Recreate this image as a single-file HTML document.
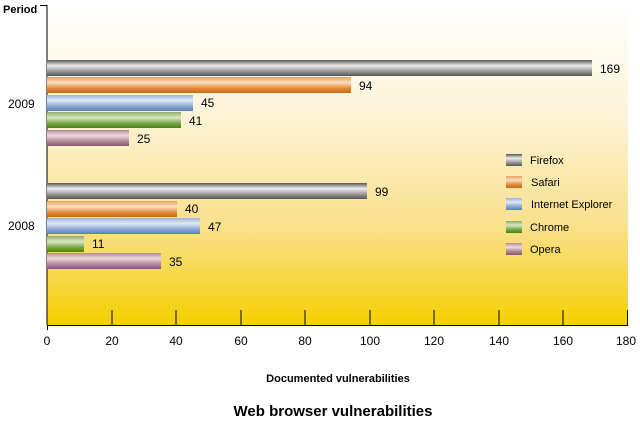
<!DOCTYPE html>
<html><head><style>body{margin:0;background:#fff}svg{display:block;font-family:"Liberation Sans",sans-serif}</style></head><body>
<svg width="640" height="422" viewBox="0 0 640 422">
<defs>
<linearGradient id="bg" x1="0" y1="0" x2="0" y2="1">
<stop offset="0" stop-color="#ffffff"/><stop offset="0.35" stop-color="#fdf3d6"/><stop offset="0.7" stop-color="#f9e08a"/><stop offset="1" stop-color="#f5d000"/></linearGradient>
<linearGradient id="g0" x1="0" y1="0" x2="0" y2="1"><stop offset="0" stop-color="#555"/><stop offset="0.35" stop-color="#eee"/><stop offset="0.7" stop-color="#999"/><stop offset="1" stop-color="#555"/></linearGradient>
<linearGradient id="g1" x1="0" y1="0" x2="0" y2="1"><stop offset="0" stop-color="#e8a060"/><stop offset="0.35" stop-color="#fbe0c0"/><stop offset="0.7" stop-color="#e48a3a"/><stop offset="1" stop-color="#c86a10"/></linearGradient>
<linearGradient id="g2" x1="0" y1="0" x2="0" y2="1"><stop offset="0" stop-color="#9ab4dc"/><stop offset="0.35" stop-color="#dfe8f6"/><stop offset="0.7" stop-color="#8aa8d8"/><stop offset="1" stop-color="#5a7fc0"/></linearGradient>
<linearGradient id="g3" x1="0" y1="0" x2="0" y2="1"><stop offset="0" stop-color="#8ab060"/><stop offset="0.35" stop-color="#d8e8c4"/><stop offset="0.7" stop-color="#7aa848"/><stop offset="1" stop-color="#4a8018"/></linearGradient>
<linearGradient id="g4" x1="0" y1="0" x2="0" y2="1"><stop offset="0" stop-color="#b48a98"/><stop offset="0.35" stop-color="#f0d8dc"/><stop offset="0.7" stop-color="#b08898"/><stop offset="1" stop-color="#86586c"/></linearGradient>
</defs>
<rect x="47" y="5" width="581" height="320" fill="url(#bg)"/>
<line x1="47" y1="5" x2="47" y2="325" stroke="#000"/>
<line x1="40" y1="5.5" x2="47" y2="5.5" stroke="#000"/>
<line x1="47" y1="325.5" x2="628" y2="325.5" stroke="#000"/>
<g stroke="#000">
<line x1="47.5" y1="325" x2="47.5" y2="330"/><line x1="112" y1="310" x2="112" y2="325"/><line x1="176" y1="310" x2="176" y2="325"/><line x1="241" y1="310" x2="241" y2="325"/><line x1="305" y1="310" x2="305" y2="325"/><line x1="370" y1="310" x2="370" y2="325"/><line x1="434" y1="310" x2="434" y2="325"/><line x1="499" y1="310" x2="499" y2="325"/><line x1="563" y1="310" x2="563" y2="325"/><line x1="627.5" y1="310" x2="627.5" y2="325"/>
</g>
<g font-size="12" text-anchor="middle" fill="#000">
<text x="47" y="345">0</text><text x="112" y="345">20</text><text x="176" y="345">40</text><text x="241" y="345">60</text><text x="305" y="345">80</text><text x="370" y="345">100</text><text x="434" y="345">120</text><text x="499" y="345">140</text><text x="563" y="345">160</text><text x="626" y="345">180</text>
</g>
<text x="3" y="13" font-size="11" font-weight="bold">Period</text>
<text x="8" y="108" font-size="12">2009</text>
<text x="8" y="230" font-size="12">2008</text>
<text x="338" y="382" font-size="11" font-weight="bold" text-anchor="middle">Documented vulnerabilities</text>
<text x="333" y="416" font-size="15" font-weight="bold" text-anchor="middle">Web browser vulnerabilities</text>
<g font-size="12">
<rect x="47" y="60" width="545" height="16" fill="url(#g0)"/><text x="600" y="73">169</text>
<rect x="47" y="77" width="304" height="16" fill="url(#g1)"/><text x="359" y="90">94</text>
<rect x="47" y="95" width="146" height="16" fill="url(#g2)"/><text x="201" y="107">45</text>
<rect x="47" y="112" width="134" height="16" fill="url(#g3)"/><text x="189" y="125">41</text>
<rect x="47" y="130" width="82" height="16" fill="url(#g4)"/><text x="137" y="143">25</text>
<rect x="47" y="183" width="320" height="16" fill="url(#g0)"/><text x="375" y="196">99</text>
<rect x="47" y="201" width="130" height="16" fill="url(#g1)"/><text x="185" y="213">40</text>
<rect x="47" y="218" width="153" height="16" fill="url(#g2)"/><text x="208" y="231">47</text>
<rect x="47" y="236" width="37" height="16" fill="url(#g3)"/><text x="92" y="248">11</text>
<rect x="47" y="253" width="114" height="16" fill="url(#g4)"/><text x="169" y="266">35</text>
</g>
<g font-size="11">
<rect x="506" y="154" width="16" height="12" fill="url(#g0)"/><text x="530" y="164">Firefox</text>
<rect x="506" y="176" width="16" height="12" fill="url(#g1)"/><text x="531" y="186">Safari</text>
<rect x="506" y="198" width="16" height="12" fill="url(#g2)"/><text x="531" y="208">Internet Explorer</text>
<rect x="506" y="221" width="16" height="12" fill="url(#g3)"/><text x="530" y="231">Chrome</text>
<rect x="506" y="243" width="16" height="12" fill="url(#g4)"/><text x="530" y="253">Opera</text>
</g>
</svg>
</body></html>
